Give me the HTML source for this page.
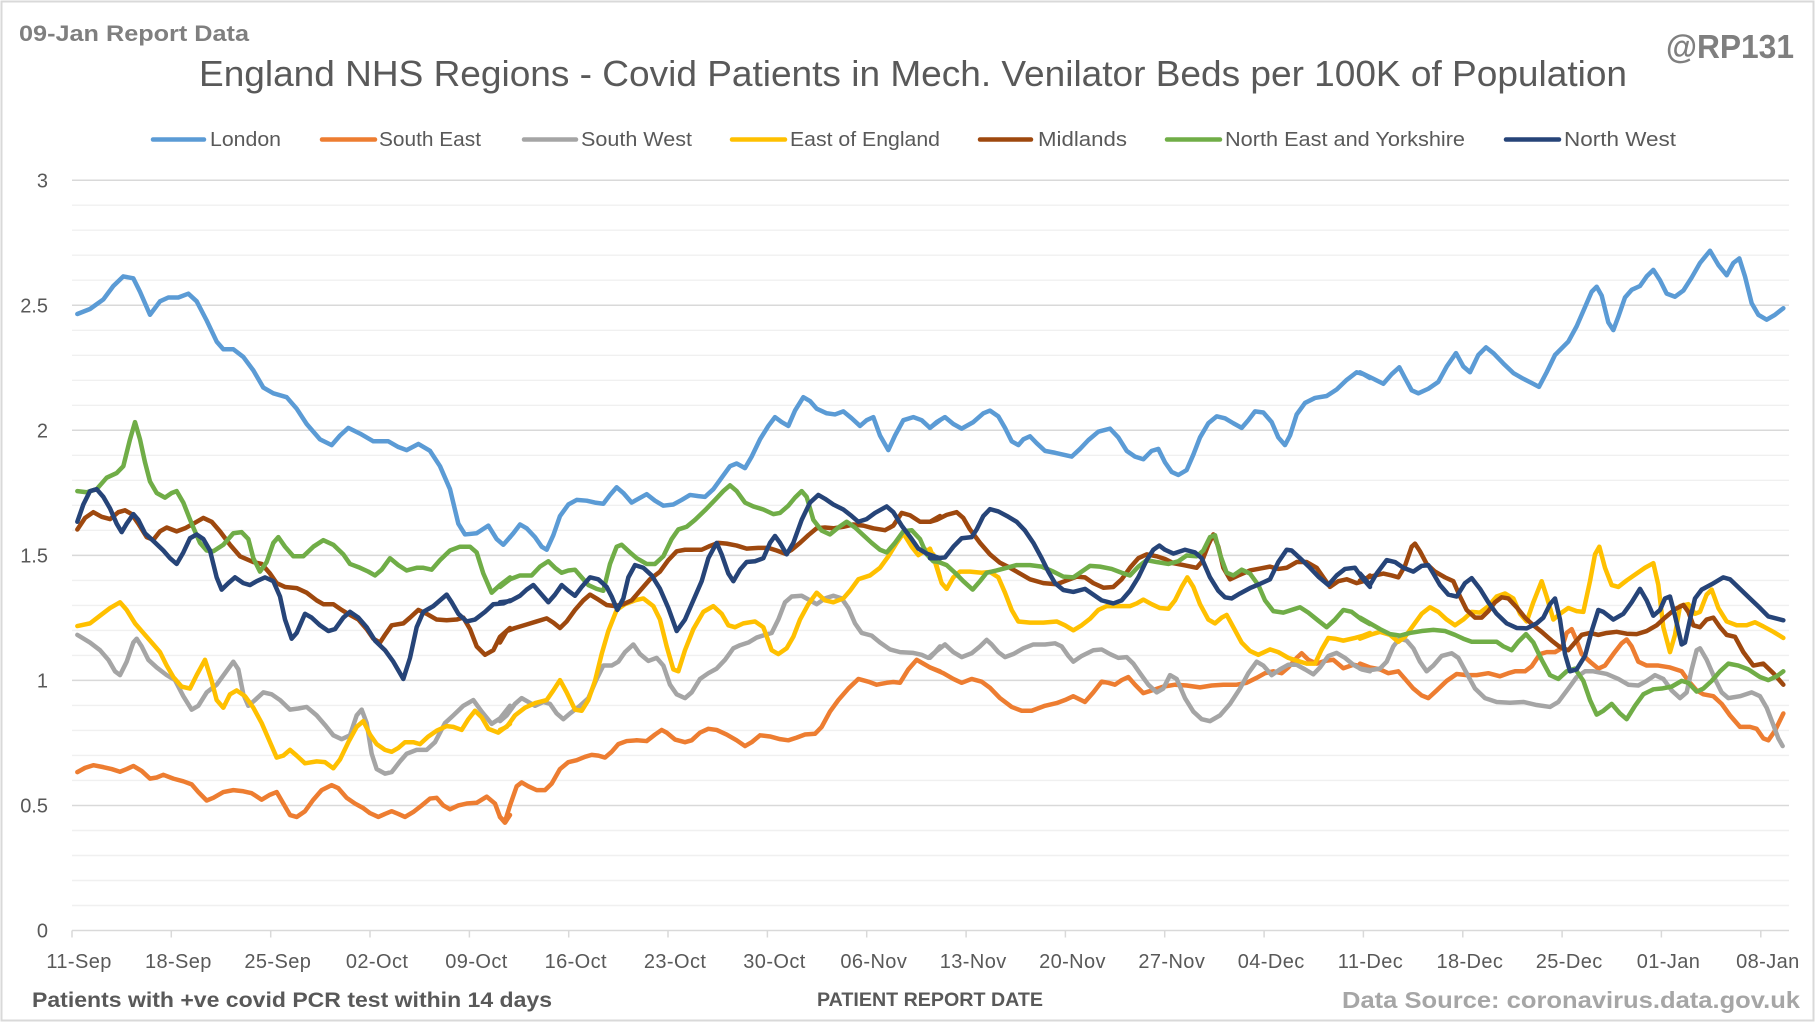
<!DOCTYPE html>
<html><head><meta charset="utf-8"><style>
html,body{margin:0;padding:0;background:#fff;}
svg{display:block;font-family:"Liberation Sans",Arial,sans-serif;}
</style></head><body>
<svg width="1816" height="1022" viewBox="0 0 1816 1022" xmlns="http://www.w3.org/2000/svg">
<rect x="0" y="0" width="1816" height="1022" fill="#fff"/>
<rect x="1.5" y="1.5" width="1812" height="1019" fill="none" stroke="#d9d9d9" stroke-width="2"/>

<text x="19" y="41" font-size="22" font-weight="bold" fill="#7f7f7f" textLength="230" lengthAdjust="spacingAndGlyphs">09-Jan Report Data</text>
<text x="1666" y="58" font-size="33" font-weight="bold" fill="#7f7f7f" textLength="128" lengthAdjust="spacingAndGlyphs">@RP131</text>
<text x="199" y="86" font-size="36" fill="#595959" textLength="1428" lengthAdjust="spacingAndGlyphs">England NHS Regions - Covid Patients in Mech. Venilator Beds per 100K of Population</text>

<g stroke-width="4.5" stroke-linecap="round">
<line x1="153" y1="139.5" x2="204" y2="139.5" stroke="#5b9bd5"/>
<line x1="322" y1="139.5" x2="375" y2="139.5" stroke="#ed7d31"/>
<line x1="524" y1="139.5" x2="576" y2="139.5" stroke="#a5a5a5"/>
<line x1="732" y1="139.5" x2="785" y2="139.5" stroke="#ffc000"/>
<line x1="980" y1="139.5" x2="1031" y2="139.5" stroke="#9e480e"/>
<line x1="1167" y1="139.5" x2="1220" y2="139.5" stroke="#70ad47"/>
<line x1="1506" y1="139.5" x2="1559" y2="139.5" stroke="#264478"/>
</g>
<g font-size="20" fill="#595959">
<text x="210" y="146" textLength="71" lengthAdjust="spacingAndGlyphs">London</text>
<text x="379" y="146" textLength="102" lengthAdjust="spacingAndGlyphs">South East</text>
<text x="581" y="146" textLength="111" lengthAdjust="spacingAndGlyphs">South West</text>
<text x="790" y="146" textLength="150" lengthAdjust="spacingAndGlyphs">East of England</text>
<text x="1038" y="146" textLength="89" lengthAdjust="spacingAndGlyphs">Midlands</text>
<text x="1225" y="146" textLength="240" lengthAdjust="spacingAndGlyphs">North East and Yorkshire</text>
<text x="1564" y="146" textLength="112" lengthAdjust="spacingAndGlyphs">North West</text>
</g>

<!-- minor gridlines -->
<g stroke="#f0f0f0" stroke-width="1.4">
<line x1="72" x2="1789" y1="905.5" y2="905.5"/><line x1="72" x2="1789" y1="880.5" y2="880.5"/><line x1="72" x2="1789" y1="855.5" y2="855.5"/><line x1="72" x2="1789" y1="830.5" y2="830.5"/>
<line x1="72" x2="1789" y1="780.4" y2="780.4"/><line x1="72" x2="1789" y1="755.4" y2="755.4"/><line x1="72" x2="1789" y1="730.4" y2="730.4"/><line x1="72" x2="1789" y1="705.4" y2="705.4"/>
<line x1="72" x2="1789" y1="655.4" y2="655.4"/><line x1="72" x2="1789" y1="630.4" y2="630.4"/><line x1="72" x2="1789" y1="605.4" y2="605.4"/><line x1="72" x2="1789" y1="580.4" y2="580.4"/>
<line x1="72" x2="1789" y1="530.3" y2="530.3"/><line x1="72" x2="1789" y1="505.3" y2="505.3"/><line x1="72" x2="1789" y1="480.3" y2="480.3"/><line x1="72" x2="1789" y1="455.3" y2="455.3"/>
<line x1="72" x2="1789" y1="405.3" y2="405.3"/><line x1="72" x2="1789" y1="380.3" y2="380.3"/><line x1="72" x2="1789" y1="355.3" y2="355.3"/><line x1="72" x2="1789" y1="330.3" y2="330.3"/>
<line x1="72" x2="1789" y1="280.2" y2="280.2"/><line x1="72" x2="1789" y1="255.2" y2="255.2"/><line x1="72" x2="1789" y1="230.2" y2="230.2"/><line x1="72" x2="1789" y1="205.2" y2="205.2"/>
</g>
<!-- major gridlines -->
<g stroke="#d9d9d9" stroke-width="1.5">
<line x1="72" x2="1789" y1="805.5" y2="805.5"/><line x1="72" x2="1789" y1="680.4" y2="680.4"/><line x1="72" x2="1789" y1="555.4" y2="555.4"/>
<line x1="72" x2="1789" y1="430.3" y2="430.3"/><line x1="72" x2="1789" y1="305.2" y2="305.2"/><line x1="72" x2="1789" y1="180.2" y2="180.2"/>
<line x1="72" x2="1789" y1="930.5" y2="930.5"/>
</g>
<!-- ticks -->
<g stroke="#d9d9d9" stroke-width="1.5">
<line x1="72" x2="72" y1="930.5" y2="937.5"/><line x1="171.3" x2="171.3" y1="930.5" y2="937.5"/><line x1="270.7" x2="270.7" y1="930.5" y2="937.5"/><line x1="370" x2="370" y1="930.5" y2="937.5"/><line x1="469.4" x2="469.4" y1="930.5" y2="937.5"/><line x1="568.7" x2="568.7" y1="930.5" y2="937.5"/><line x1="668" x2="668" y1="930.5" y2="937.5"/><line x1="767.4" x2="767.4" y1="930.5" y2="937.5"/><line x1="866.7" x2="866.7" y1="930.5" y2="937.5"/><line x1="966.1" x2="966.1" y1="930.5" y2="937.5"/><line x1="1065.4" x2="1065.4" y1="930.5" y2="937.5"/><line x1="1164.7" x2="1164.7" y1="930.5" y2="937.5"/><line x1="1264.1" x2="1264.1" y1="930.5" y2="937.5"/><line x1="1363.4" x2="1363.4" y1="930.5" y2="937.5"/><line x1="1462.8" x2="1462.8" y1="930.5" y2="937.5"/><line x1="1562.1" x2="1562.1" y1="930.5" y2="937.5"/><line x1="1661.4" x2="1661.4" y1="930.5" y2="937.5"/><line x1="1760.8" x2="1760.8" y1="930.5" y2="937.5"/>
</g>

<!-- y labels -->
<g font-size="20" fill="#595959" text-anchor="end">
<text x="48" y="187.5">3</text>
<text x="48" y="312.5">2.5</text>
<text x="48" y="437.5">2</text>
<text x="48" y="562.5">1.5</text>
<text x="48" y="687.5">1</text>
<text x="48" y="812.5">0.5</text>
<text x="48" y="937.5">0</text>
</g>
<!-- x labels -->
<g font-size="20" fill="#595959" text-anchor="middle" letter-spacing="0.4">
<text x="79.1" y="968">11-Sep</text><text x="178.4" y="968">18-Sep</text><text x="277.8" y="968">25-Sep</text><text x="377.1" y="968">02-Oct</text><text x="476.5" y="968">09-Oct</text><text x="575.8" y="968">16-Oct</text><text x="675.1" y="968">23-Oct</text><text x="774.5" y="968">30-Oct</text><text x="873.8" y="968">06-Nov</text><text x="973.2" y="968">13-Nov</text><text x="1072.5" y="968">20-Nov</text><text x="1171.8" y="968">27-Nov</text><text x="1271.2" y="968">04-Dec</text><text x="1370.5" y="968">11-Dec</text><text x="1469.9" y="968">18-Dec</text><text x="1569.2" y="968">25-Dec</text><text x="1668.5" y="968">01-Jan</text><text x="1767.9" y="968">08-Jan</text>
</g>

<text x="32" y="1007" font-size="21" font-weight="bold" fill="#595959" textLength="520" lengthAdjust="spacingAndGlyphs">Patients with +ve covid PCR test within 14 days</text>
<text x="817" y="1006" font-size="19" font-weight="bold" fill="#595959" textLength="226" lengthAdjust="spacingAndGlyphs">PATIENT REPORT DATE</text>
<text x="1342" y="1008" font-size="23" font-weight="bold" fill="#a6a6a6" textLength="458" lengthAdjust="spacingAndGlyphs">Data Source: coronavirus.data.gov.uk</text>

<!-- series -->
<g fill="none" stroke-width="4.5" stroke-linejoin="round" stroke-linecap="round">
<!-- London -->
<g stroke="#5b9bd5">
<g transform="translate(70,240) scale(0.333333,0.38337)"><polyline vector-effect="non-scaling-stroke" points="22,193 60,180 100,155 130,120 160,95 190,100 210,135 240,195 270,160 295,150 325,150 355,140 380,160 410,210 440,265 460,285 490,285 520,305 550,340 580,385 610,400 650,410 680,440 710,480 750,520 785,535 810,510 835,490 870,505 910,525 955,525 985,540 1010,548 1045,532 1080,550 1110,590 1140,650 1165,740 1185,768 1220,765 1255,745 1280,780 1300,795 1320,775"/></g>
<g transform="translate(500,240) scale(0.333333,0.38337)"><polyline vector-effect="non-scaling-stroke" points="30,775 40,765 60,742 80,752 105,775 125,800 140,808 160,770 180,720 205,690 230,678 260,680 285,685 310,688 330,665 350,645 370,660 395,685 415,675 440,663 465,680 490,693 520,690 545,678 570,665 595,668 615,670 640,650 665,620 690,590 710,583 735,595 755,565 780,520 805,485 825,462 845,475 865,485 885,445 910,410 930,420 950,440 980,452 1005,455 1030,447 1055,465 1080,485 1100,470 1120,462 1140,510 1165,548 1185,510 1210,470 1240,462 1265,470 1290,490 1320,470"/></g>
<g transform="translate(930,240) scale(0.333333,0.38337)"><polyline vector-effect="non-scaling-stroke" points="0,490 20,475 45,462 70,480 95,492 130,475 160,452 180,445 205,460 225,490 245,525 265,535 280,520 300,512 320,530 345,550 375,555 400,560 425,565 450,545 475,522 505,500 540,492 565,515 590,550 615,565 640,572 665,550 685,545 705,580 725,605 745,613 770,600 790,560 810,515 835,478 860,460 885,465 910,478 935,490 955,470 975,447 1000,450 1025,475 1045,515 1065,535 1080,510 1100,455 1125,425 1155,412 1190,407 1220,390 1250,365 1280,345 1300,350 1320,360"/></g>
<g transform="translate(1360,240) scale(0.333333,0.38337)"><polyline vector-effect="non-scaling-stroke" points="0,345 40,362 70,375 95,350 118,332 135,360 155,392 175,400 205,388 235,370 260,330 288,295 310,330 330,345 355,300 378,280 400,295 430,322 460,347 490,362 515,373 537,383 560,345 585,300 625,265 650,225 675,175 695,135 710,122 725,145 745,215 760,235 775,200 795,150 815,130 840,120 860,95 880,78 900,105 920,140 945,148 970,132 995,98 1020,60 1050,28 1075,65 1100,92 1120,60 1138,48 1155,95 1175,165 1195,195 1220,208 1245,195 1270,178"/></g>
</g>
<!-- South East -->
<g stroke="#ed7d31">
<g transform="translate(70,240) scale(0.333333,0.38337)"><polyline vector-effect="non-scaling-stroke" points="22,1388 45,1377 70,1370 100,1375 125,1380 150,1387 170,1380 190,1372 215,1385 240,1405 260,1402 280,1395 310,1405 340,1412 365,1420 385,1440 410,1462 430,1455 460,1440 490,1435 520,1438 545,1443 575,1460 600,1447 620,1440 640,1470 660,1500 680,1505 705,1490 730,1460 755,1435 785,1422 805,1430 830,1455 855,1470 880,1482 900,1495 925,1505 945,1497 965,1490 985,1497 1005,1505 1030,1492 1055,1475 1080,1457 1100,1455 1120,1475 1140,1485 1165,1475 1190,1470 1220,1468 1250,1452 1275,1470 1290,1505 1305,1520 1320,1500"/></g>
<g transform="translate(500,240) scale(0.333333,0.38337)"><polyline vector-effect="non-scaling-stroke" points="0,1505 15,1517 30,1475 50,1425 65,1415 85,1425 110,1435 135,1435 155,1418 180,1380 205,1362 230,1357 255,1348 275,1343 295,1345 315,1350 335,1335 355,1315 380,1307 410,1305 440,1307 465,1290 485,1278 500,1285 525,1303 555,1310 575,1305 600,1285 625,1275 650,1278 680,1290 710,1305 735,1320 755,1310 780,1292 810,1295 840,1302 865,1305 890,1298 915,1290 945,1288 965,1270 990,1230 1015,1200 1045,1170 1075,1145 1105,1152 1130,1160 1160,1155 1180,1153 1200,1155 1225,1120 1250,1095 1270,1105 1290,1115 1320,1125"/></g>
<g transform="translate(930,240) scale(0.333333,0.38337)"><polyline vector-effect="non-scaling-stroke" points="0,1115 40,1130 70,1145 95,1155 125,1145 155,1152 180,1168 210,1195 245,1218 275,1228 305,1228 345,1215 380,1208 405,1200 430,1190 465,1205 490,1180 515,1152 535,1155 555,1160 575,1148 595,1140 615,1160 640,1182 665,1175 700,1165 735,1160 770,1162 810,1167 845,1162 880,1160 920,1160 950,1155 980,1142 1005,1130 1030,1125 1055,1130 1075,1115 1100,1090 1115,1078 1135,1095 1160,1105 1185,1098 1210,1095 1240,1117 1270,1108 1295,1112 1320,1117"/></g>
<g transform="translate(1360,240) scale(0.333333,0.38337)"><polyline vector-effect="non-scaling-stroke" points="0,1105 30,1115 60,1120 85,1130 115,1125 135,1145 160,1170 185,1188 205,1195 230,1175 260,1150 290,1132 320,1135 350,1135 385,1130 420,1138 445,1130 465,1125 495,1125 515,1112 540,1080 560,1075 585,1075 605,1065 620,1025 635,1015 650,1045 665,1080 690,1100 715,1118 735,1110 760,1080 785,1052 800,1042 815,1060 835,1100 860,1110 895,1110 930,1115 965,1125 985,1150 1010,1175 1030,1185 1060,1190 1085,1210 1110,1240 1140,1270 1170,1270 1190,1275 1210,1300 1225,1305 1245,1280 1270,1235"/></g>
</g>
<!-- South West -->
<g stroke="#a5a5a5">
<g transform="translate(70,240) scale(0.333333,0.38337)"><polyline vector-effect="non-scaling-stroke" points="22,1030 60,1050 90,1070 115,1095 135,1125 150,1135 170,1100 190,1050 200,1040 215,1060 235,1095 260,1115 290,1135 315,1148 340,1190 365,1225 385,1215 410,1180 440,1160 465,1130 490,1100 505,1120 520,1185 535,1215 555,1200 580,1180 605,1185 630,1200 660,1225 685,1222 710,1218 740,1240 765,1265 790,1292 815,1302 840,1292 860,1240 875,1225 890,1260 905,1340 920,1380 945,1392 965,1388 990,1360 1010,1340 1040,1330 1070,1330 1095,1310 1125,1260 1150,1240 1180,1215 1210,1200 1235,1230 1265,1262 1290,1248 1320,1215"/></g>
<g transform="translate(500,240) scale(0.333333,0.38337)"><polyline vector-effect="non-scaling-stroke" points="0,1255 20,1240 45,1210 65,1195 85,1205 105,1215 130,1205 150,1210 170,1235 190,1250 210,1235 240,1215 265,1195 290,1145 310,1110 335,1110 355,1100 375,1075 400,1055 420,1080 445,1098 470,1090 490,1110 510,1160 530,1185 555,1195 575,1180 600,1145 625,1130 650,1118 675,1095 700,1065 720,1057 745,1050 770,1037 795,1030 815,1025 835,990 855,945 875,930 905,928 930,940 950,950 975,935 1000,928 1025,935 1045,960 1065,1000 1085,1025 1115,1032 1140,1050 1170,1068 1200,1075 1240,1077 1265,1082 1285,1090 1305,1075 1320,1060"/></g>
<g transform="translate(930,240) scale(0.333333,0.38337)"><polyline vector-effect="non-scaling-stroke" points="0,1090 20,1072 45,1055 70,1075 95,1088 125,1078 150,1060 170,1043 185,1055 205,1075 225,1088 250,1080 280,1065 310,1055 345,1055 375,1052 395,1060 415,1085 430,1100 455,1085 490,1070 515,1068 540,1080 565,1090 590,1088 610,1105 630,1130 655,1160 680,1180 700,1170 720,1135 740,1145 765,1195 790,1230 815,1250 840,1255 870,1240 900,1210 930,1170 955,1130 980,1100 1000,1110 1025,1135 1050,1120 1075,1108 1100,1108 1125,1120 1150,1133 1170,1115 1195,1085 1220,1077 1245,1090 1270,1108 1295,1120 1320,1125"/></g>
<g transform="translate(1360,240) scale(0.333333,0.38337)"><polyline vector-effect="non-scaling-stroke" points="0,1118 30,1122 60,1118 80,1100 100,1060 118,1040 140,1045 160,1065 180,1100 200,1125 220,1110 245,1085 275,1078 295,1090 320,1130 345,1170 375,1195 410,1205 450,1207 490,1205 530,1213 570,1218 595,1205 625,1170 650,1140 675,1125 700,1125 740,1132 775,1145 805,1160 835,1162 860,1150 885,1135 910,1145 935,1175 960,1195 980,1180 995,1120 1010,1070 1020,1065 1040,1095 1065,1145 1085,1180 1105,1195 1140,1190 1175,1180 1200,1190 1220,1220 1240,1265 1255,1300 1268,1320"/></g>
</g>
<!-- East of England -->
<g stroke="#ffc000">
<g transform="translate(70,240) scale(0.333333,0.38337)"><polyline vector-effect="non-scaling-stroke" points="22,1007 60,1000 90,980 120,960 150,945 170,965 195,1000 220,1025 245,1050 270,1075 290,1110 310,1140 335,1165 360,1170 380,1135 405,1095 425,1150 440,1200 460,1220 480,1185 500,1175 525,1190 550,1220 575,1260 595,1300 620,1350 640,1345 660,1330 680,1345 705,1365 740,1360 765,1362 790,1378 810,1355 835,1310 860,1270 880,1255 900,1290 920,1315 945,1330 965,1335 985,1325 1005,1310 1030,1310 1050,1315 1075,1295 1100,1280 1130,1268 1150,1270 1175,1278 1195,1250 1215,1228 1235,1245 1255,1275 1285,1285 1320,1262"/></g>
<g transform="translate(500,240) scale(0.333333,0.38337)"><polyline vector-effect="non-scaling-stroke" points="0,1278 20,1270 45,1240 75,1220 105,1208 140,1200 160,1175 180,1148 200,1180 225,1225 245,1228 265,1200 285,1150 305,1080 325,1020 350,965 375,950 405,940 430,935 460,955 480,990 500,1060 520,1120 535,1125 555,1070 580,1015 610,970 640,955 665,975 685,1005 705,1010 730,1000 765,995 790,1010 815,1070 835,1080 860,1065 880,1035 900,990 925,950 950,920 975,940 1000,945 1030,935 1050,915 1075,885 1110,875 1140,855 1165,825 1190,790 1210,765 1235,800 1255,822 1280,808 1300,820 1320,880"/></g>
<g transform="translate(930,240) scale(0.333333,0.38337)"><polyline vector-effect="non-scaling-stroke" points="0,805 15,840 35,895 50,910 70,880 90,865 120,865 155,868 180,866 205,880 225,920 245,965 265,995 300,998 340,998 380,995 405,1005 430,1018 455,1005 480,988 505,965 530,955 565,955 600,955 620,948 640,938 665,950 690,960 715,962 735,940 755,905 772,880 790,905 810,950 835,990 855,1000 875,985 890,978 910,1010 935,1050 960,1072 985,1082 1020,1068 1045,1075 1075,1090 1100,1097 1130,1105 1155,1105 1175,1068 1195,1038 1215,1040 1240,1045 1275,1038 1300,1032 1320,1025"/></g>
<g transform="translate(1360,240) scale(0.333333,0.38337)"><polyline vector-effect="non-scaling-stroke" points="0,1040 30,1030 60,1022 90,1030 115,1048 135,1035 160,1005 185,975 210,958 235,970 260,990 285,1005 310,990 335,970 360,972 385,955 410,930 435,922 460,935 480,975 500,995 520,945 545,890 560,930 580,990 600,975 625,960 650,968 670,970 690,890 705,820 718,800 735,855 755,900 775,905 800,888 830,870 855,855 880,843 895,900 910,1010 930,1075 945,1030 960,955 985,950 1005,975 1020,970 1040,925 1055,912 1075,960 1100,995 1130,1005 1160,1005 1185,997 1210,1008 1240,1022 1270,1038"/></g>
</g>
<!-- Midlands -->
<g stroke="#9e480e">
<g transform="translate(70,240) scale(0.333333,0.38337)"><polyline vector-effect="non-scaling-stroke" points="22,755 45,725 70,710 95,722 120,728 145,710 165,705 185,715 205,740 230,775 250,782 270,760 290,750 320,760 345,752 370,740 400,725 425,735 450,760 480,795 510,825 550,840 575,845 600,870 620,895 645,905 680,908 710,920 740,940 760,950 790,950 815,965 840,978 865,990 890,1015 910,1040 930,1050 945,1030 965,1005 1000,1000 1020,985 1045,965 1070,975 1100,990 1130,992 1160,990 1180,985 1200,1015 1220,1060 1245,1082 1270,1070 1290,1035 1320,1012"/></g>
<g transform="translate(500,240) scale(0.333333,0.38337)"><polyline vector-effect="non-scaling-stroke" points="0,1050 20,1020 45,1012 80,1003 110,995 140,987 160,998 180,1012 200,995 225,965 250,940 270,925 295,938 320,952 345,955 370,950 395,940 420,915 450,885 480,865 505,835 530,812 555,808 580,808 605,808 630,798 655,790 680,792 710,797 740,805 775,803 805,803 830,810 855,818 875,808 900,790 925,770 950,752 975,750 1000,752 1030,748 1060,742 1090,745 1120,752 1155,757 1180,745 1205,712 1230,718 1260,735 1290,735 1320,720"/></g>
<g transform="translate(930,240) scale(0.333333,0.38337)"><polyline vector-effect="non-scaling-stroke" points="0,735 20,730 50,717 80,710 100,725 120,755 150,790 180,820 210,842 240,855 270,870 300,885 340,895 380,898 410,888 440,878 465,880 490,895 520,907 550,905 575,885 600,855 625,830 650,820 680,825 705,832 730,843 760,848 800,855 815,840 835,795 850,768 865,800 880,855 900,885 925,875 960,862 990,857 1020,852 1045,858 1070,855 1100,840 1130,840 1160,855 1180,880 1200,905 1225,890 1250,885 1280,895 1300,890 1320,875"/></g>
<g transform="translate(1360,240) scale(0.333333,0.38337)"><polyline vector-effect="non-scaling-stroke" points="0,888 25,880 45,875 70,870 95,875 115,880 135,850 155,800 165,792 180,812 200,845 225,865 255,880 280,890 300,930 320,965 345,985 365,985 385,968 405,945 425,932 445,935 470,958 495,985 520,1005 545,1022 575,1045 600,1062 625,1070 645,1050 665,1030 690,1025 715,1030 740,1025 770,1022 800,1027 830,1028 860,1020 890,1005 915,985 945,963 970,952 985,970 1000,1005 1020,1010 1040,990 1060,985 1080,1010 1100,1030 1125,1035 1150,1075 1180,1110 1210,1105 1240,1130 1270,1160"/></g>
</g>
<!-- North East and Yorkshire -->
<g stroke="#70ad47">
<g transform="translate(70,240) scale(0.333333,0.38337)"><polyline vector-effect="non-scaling-stroke" points="22,655 50,658 80,650 110,620 140,608 160,590 180,520 195,475 210,520 225,580 240,630 260,660 285,672 305,660 320,655 340,685 365,740 390,790 410,810 430,812 460,795 490,765 515,762 535,780 550,830 570,865 590,840 610,790 625,775 645,800 670,825 700,825 730,800 760,783 790,795 820,820 840,845 870,855 895,865 915,875 935,860 960,830 985,848 1010,862 1040,855 1060,855 1085,860 1110,835 1140,810 1170,800 1200,800 1220,815 1240,870 1265,920 1290,900 1320,880"/></g>
<g transform="translate(500,240) scale(0.333333,0.38337)"><polyline vector-effect="non-scaling-stroke" points="0,905 30,885 60,875 95,875 120,852 145,838 165,855 185,868 205,862 225,860 245,880 265,900 290,910 310,915 330,845 350,800 365,795 390,815 410,830 440,845 465,845 490,825 515,780 535,755 560,748 585,730 615,705 645,678 670,655 690,640 710,655 735,685 760,695 790,703 820,715 840,712 865,693 885,672 905,655 920,670 940,730 965,758 990,768 1015,750 1040,735 1065,750 1090,770 1115,790 1140,808 1160,815 1185,790 1210,760 1235,757 1260,780 1280,820 1300,838 1320,840"/></g>
<g transform="translate(930,240) scale(0.333333,0.38337)"><polyline vector-effect="non-scaling-stroke" points="0,830 20,838 50,848 75,868 100,890 128,912 150,890 170,868 200,862 230,855 260,848 300,848 335,852 370,865 400,878 430,880 455,865 480,850 510,852 545,858 575,868 600,875 625,852 650,835 680,840 715,845 745,838 770,823 800,825 820,810 840,775 855,770 870,820 890,868 910,875 935,860 960,870 985,900 1005,940 1030,968 1060,972 1085,965 1110,958 1135,972 1165,993 1190,1010 1215,990 1240,965 1265,970 1295,990 1320,1002"/></g>
<g transform="translate(1360,240) scale(0.333333,0.38337)"><polyline vector-effect="non-scaling-stroke" points="0,985 30,1000 60,1015 90,1028 120,1032 150,1025 185,1020 220,1017 255,1020 285,1030 310,1040 335,1048 370,1048 410,1048 430,1060 455,1070 475,1048 498,1028 520,1050 545,1095 570,1135 595,1145 620,1125 645,1118 670,1150 690,1200 710,1238 730,1228 755,1210 780,1235 800,1250 825,1215 850,1185 880,1172 905,1170 935,1165 965,1150 985,1155 1010,1178 1030,1170 1055,1150 1080,1125 1105,1105 1135,1110 1165,1120 1200,1140 1225,1148 1250,1138 1270,1125"/></g>
</g>
<!-- North West -->
<g stroke="#264478">
<g transform="translate(70,240) scale(0.333333,0.38337)"><polyline vector-effect="non-scaling-stroke" points="22,735 40,690 60,655 80,650 100,670 120,700 140,740 155,762 170,740 190,715 205,730 225,765 250,785 280,810 300,830 320,845 340,815 360,778 380,768 400,780 420,810 440,880 455,912 475,895 495,880 520,895 540,900 560,890 585,880 610,890 630,930 645,990 665,1040 680,1025 705,975 725,985 750,1005 775,1020 795,1015 820,985 840,970 865,985 890,1010 915,1045 945,1070 970,1100 1000,1145 1020,1090 1040,1010 1060,970 1090,955 1110,940 1130,925 1145,945 1165,975 1190,995 1215,990 1245,970 1270,950 1300,948 1320,940"/></g>
<g transform="translate(500,240) scale(0.333333,0.38337)"><polyline vector-effect="non-scaling-stroke" points="0,945 30,942 60,928 80,912 100,900 120,920 145,945 165,925 185,900 205,915 225,928 245,905 270,880 295,885 320,905 335,930 352,965 370,935 385,880 405,848 430,855 455,875 480,910 505,960 530,1020 555,990 580,940 605,890 625,830 650,790 665,820 685,870 700,890 720,860 740,840 765,838 790,830 810,790 825,772 840,790 860,820 880,790 905,730 930,685 955,665 975,675 1000,690 1030,703 1055,720 1075,735 1100,728 1125,712 1160,695 1180,710 1205,745 1235,780 1255,805 1280,818 1320,830"/></g>
<g transform="translate(930,240) scale(0.333333,0.38337)"><polyline vector-effect="non-scaling-stroke" points="0,830 20,830 45,828 70,800 95,778 125,775 140,755 160,720 180,702 205,708 235,722 260,735 285,758 310,790 335,830 355,865 375,895 400,913 430,918 465,910 490,925 515,940 550,948 575,940 600,915 625,880 650,835 670,808 688,797 705,808 730,818 765,808 795,815 815,830 840,880 865,915 885,932 905,935 930,922 960,908 990,897 1020,885 1045,840 1070,808 1085,810 1110,830 1140,855 1165,878 1195,900 1220,875 1245,858 1275,855 1295,880 1320,905"/></g>
<g transform="translate(1360,240) scale(0.333333,0.38337)"><polyline vector-effect="non-scaling-stroke" points="0,870 15,885 30,900 50,870 80,835 105,840 130,855 160,865 185,850 205,848 220,870 240,900 265,925 290,930 315,895 335,882 360,910 385,945 410,975 440,1000 470,1012 500,1013 530,1000 550,985 570,950 585,935 600,990 615,1080 630,1125 650,1120 675,1085 695,1020 715,965 730,970 760,990 790,975 815,945 840,910 860,940 880,980 900,965 915,935 930,930 945,980 965,1055 975,1050 990,990 1005,935 1025,912 1055,898 1090,880 1110,885 1140,910 1170,935 1200,960 1225,982 1270,992"/></g>
</g>
</g>
</svg>
</body></html>
